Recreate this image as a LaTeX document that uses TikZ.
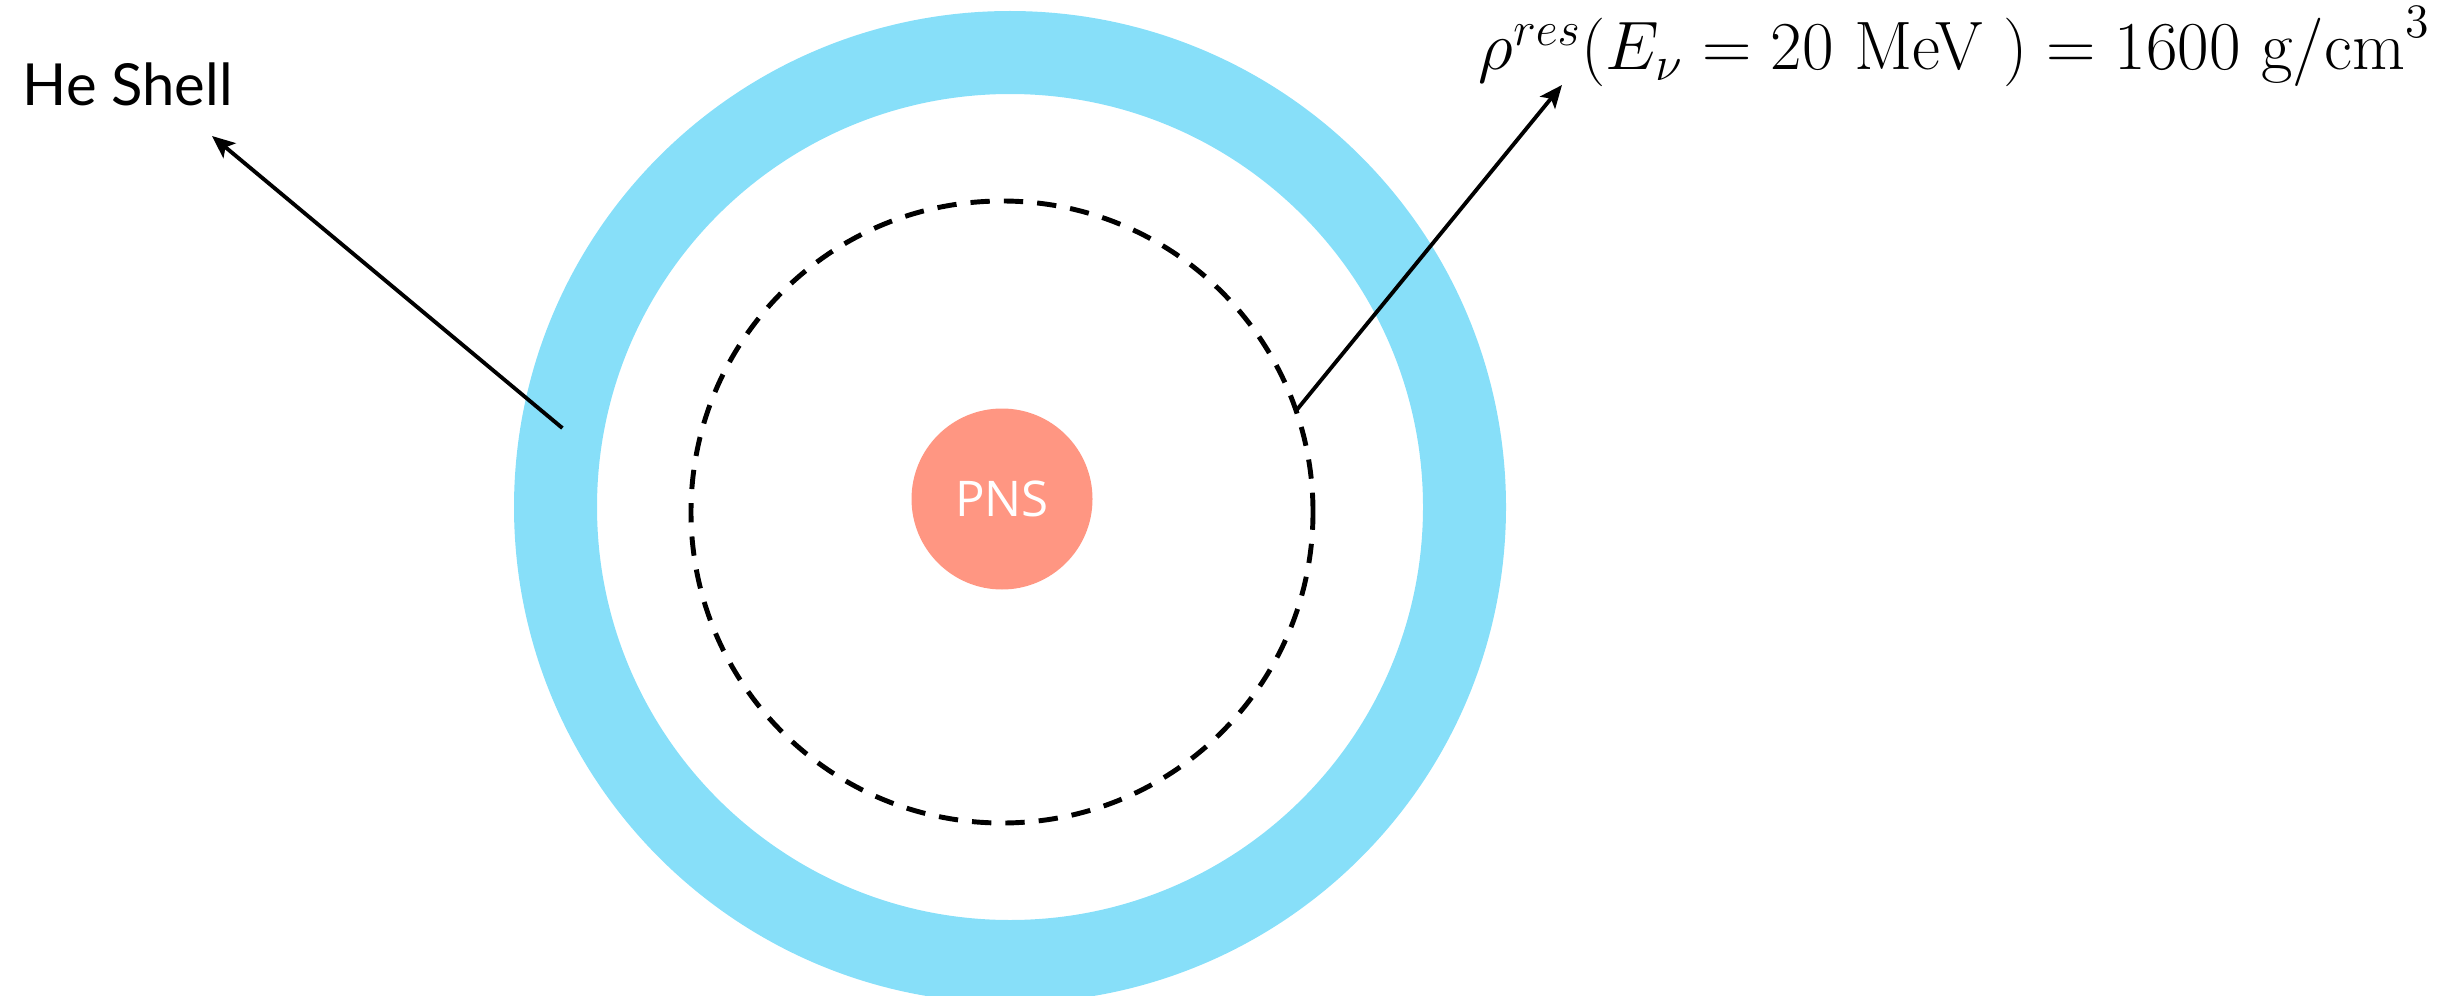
\RequirePackage{fix-cm}
\documentclass[tikz,border=0pt]{standalone}
\usepackage{amsmath}
\usepackage{fontspec}
\usepackage{tikz}
\usetikzlibrary{arrows.meta, positioning}
\newfontfamily\labelfont{Lato}
\newfontfamily\pnsfont{Open Sans}
\definecolor{mBlue}{HTML}{87DFF9}
\definecolor{mSalmon}{HTML}{FF9682}

\begin{document}
\begin{tikzpicture}[
    pointer/.style={line width=1.1pt, -{Stealth[length=6.5pt, width=5.5pt, inset=1.5pt]}},
    ring/.style={circle, inner sep=0pt, outer sep=0pt},
  ]
    \useasboundingbox (0,0) rectangle (24.54,9.95);
    \clip (0,0) rectangle (24.54,9.95);
    % shell, resonance radius and proto-neutron star
    \node[ring, draw=mBlue, line width=0.83cm, minimum size=9.09cm] (shell) at (10.10,4.88) {};
    \node[ring, draw, line width=1.4pt, dash pattern=on 5.5pt off 4pt, minimum size=6.22cm] (res) at (10.02,4.83) {};
    \node[ring, fill=mSalmon, minimum size=1.81cm, text=white, font=\pnsfont\fontsize{14}{16}\selectfont] (pns) at (10.02,4.96) {PNS};
    % labels
    \node[anchor=base west, inner sep=0pt, font=\labelfont\fontsize{16.5}{20}\selectfont] (heLabel) at (0.22,8.90) {He Shell};
    \node[anchor=base west, inner sep=0pt, font=\fontsize{19.5}{24}\selectfont] (resLabel) at (14.78,9.25) {$\rho^{res}(E_\nu = 20 \text{ MeV } ) = 1600 \text{ g/cm}^3$};
    \coordinate (heTip) at (2.12,8.59);
    \coordinate (resTip) at (15.62,9.10);
    \draw[pointer] (shell.170) -- (heTip);
    \draw[pointer] (res.19) -- (resTip);
\end{tikzpicture}
\end{document}
